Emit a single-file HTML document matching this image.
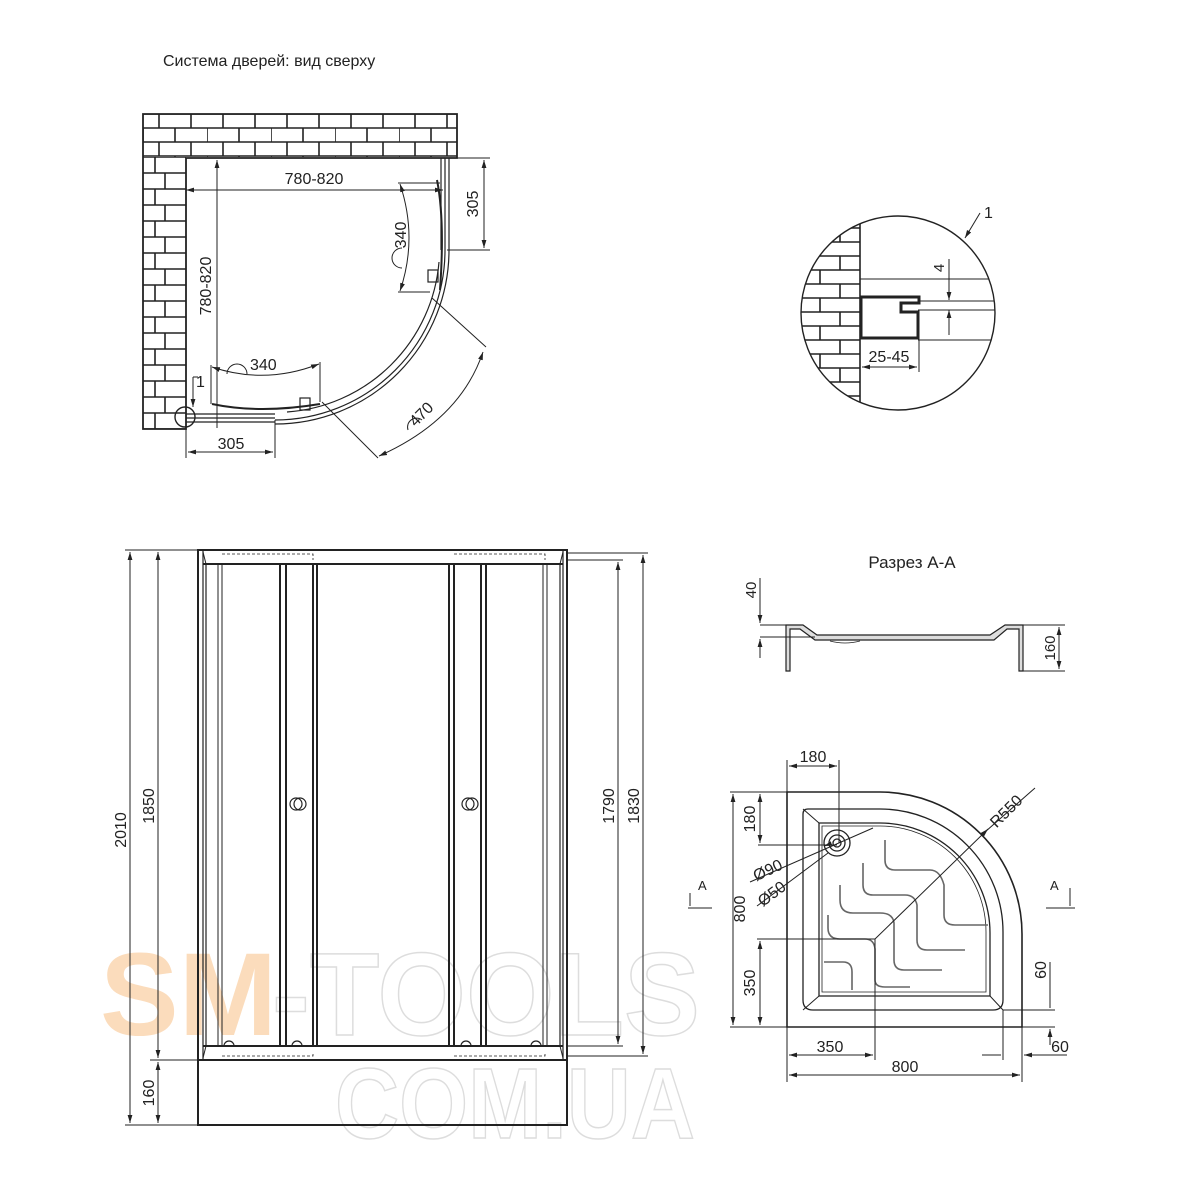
<!DOCTYPE html>
<html><head><meta charset="utf-8"><style>
html,body{margin:0;padding:0;background:#fff}
svg{display:block}
text{font-family:"Liberation Sans",sans-serif;fill:#222}
</style></head><body>
<svg width="1200" height="1200" viewBox="0 0 1200 1200" xmlns="http://www.w3.org/2000/svg">
<defs>
<pattern id="brickH" x="143" y="114" width="64" height="28" patternUnits="userSpaceOnUse">
<rect width="64" height="28" fill="#fff"/>
<path d="M0 0H64M0 14H64M0 28H64M16 0V14M48 0V14M0 14V28M32 14V28" stroke="#222" stroke-width="1.6" fill="none"/>
</pattern>
<pattern id="brickV" x="143" y="157" width="44" height="32" patternUnits="userSpaceOnUse">
<rect width="44" height="32" fill="#fff"/>
<path d="M0 0H44M0 16H44M0 32H44M12 0V16M22 16V32" stroke="#222" stroke-width="1.6" fill="none"/>
</pattern>
<pattern id="brickD" x="800" y="200" width="60" height="28" patternUnits="userSpaceOnUse">
<rect width="60" height="28" fill="#fff"/>
<path d="M0 0H60M0 14H60M0 28H60M40 0V14M20 14V28" stroke="#222" stroke-width="1.6" fill="none"/>
</pattern>
<clipPath id="dc"><circle cx="898" cy="313" r="97"/></clipPath>
<marker id="ar" viewBox="0 0 10 10" refX="10" refY="5" markerWidth="8" markerHeight="8" orient="auto-start-reverse"><path d="M0 2L10 5L0 8z" fill="#222"/></marker>
</defs>

<text x="163" y="66" font-size="16">Система дверей: вид сверху</text>

<g font-weight="bold" font-size="118">
<text x="100" y="1035" style="fill:#fbdcbc">SM</text>
<text x="272" y="1035" style="fill:none" stroke="#ddd" stroke-width="1.5" textLength="428" lengthAdjust="spacingAndGlyphs">-TOOLS</text>
<text x="335" y="1138" style="fill:none" stroke="#ddd" stroke-width="1.5" font-size="100" textLength="360" lengthAdjust="spacingAndGlyphs">COM.UA</text>
</g>

<g stroke="#222" fill="none" stroke-width="1.2">
<rect x="143" y="114" width="314" height="43" fill="url(#brickH)" stroke="none"/>
<rect x="143" y="157" width="43" height="272" fill="url(#brickV)" stroke="none"/>
<path d="M143 114H457V158H186V429H143Z" stroke-width="1.8"/>
<path d="M441 158V250M445 158V250M449 158V250"/>
<path d="M186 414H275M186 418H275M186 422H275"/>
<path d="M449 250A174 174 0 0 1 275 424"/>
<path d="M445 250A170 170 0 0 1 275 420"/>
<path d="M439 262A164 164 0 0 1 287 412"/>
<path d="M437 180 Q445 220 440 290" stroke-width="2"/>
<path d="M212 404 Q260 414 320 404" stroke-width="2"/>
<rect x="428" y="270" width="10" height="12" />
<rect x="300" y="398" width="10" height="12"/>
<path d="M186 190H443" marker-start="url(#ar)" marker-end="url(#ar)" stroke-width="1"/>
<path d="M217 160V428" marker-start="url(#ar)" stroke-width="1"/>
<path d="M447 158H490M447 250H490" stroke-width="1"/>
<path d="M484 160V248" marker-start="url(#ar)" marker-end="url(#ar)" stroke-width="1"/>
<path d="M186 424V458M275 420V458" stroke-width="1"/>
<path d="M188 452H273" marker-start="url(#ar)" marker-end="url(#ar)" stroke-width="1"/>
<path d="M398 183H440M398 292H430" stroke-width="1"/>
<path d="M400 184 Q418 238 400 291" marker-start="url(#ar)" marker-end="url(#ar)" stroke-width="1"/>
<path d="M402 248 A10 10 0 0 0 402 268" stroke-width="1"/>
<path d="M211 365V404M320 362V402" stroke-width="1"/>
<path d="M212 367 Q265 385 319 364" marker-start="url(#ar)" marker-end="url(#ar)" stroke-width="1"/>
<path d="M227 374 A10 10 0 0 1 247 374" stroke-width="1"/>
<path d="M432 298L486 347M322 402L378 458" stroke-width="1"/>
<path d="M483 352 Q460 420 379 456" marker-start="url(#ar)" marker-end="url(#ar)" stroke-width="1"/>
<path d="M408 430 A9 9 0 0 1 422 420" stroke-width="1"/>
<circle cx="185" cy="417" r="10" stroke-width="1.4"/>
<path d="M193 377V407" marker-end="url(#ar)" stroke-width="1"/>
<path d="M193 377H198" stroke-width="1"/>
</g>
<g font-size="16">
<text x="314" y="184" text-anchor="middle">780-820</text>
<text transform="translate(211,286) rotate(-90)" text-anchor="middle">780-820</text>
<text transform="translate(478,204) rotate(-90)" text-anchor="middle">305</text>
<text x="231" y="449" text-anchor="middle">305</text>
<text transform="translate(406,235) rotate(-90)" text-anchor="middle">340</text>
<text x="250" y="370">340</text>
<text transform="translate(425,418) rotate(-45)" text-anchor="middle">470</text>
<text x="196" y="387">1</text>
</g>

<g stroke="#222" fill="none">
<rect x="780" y="200" width="80" height="230" fill="url(#brickD)" clip-path="url(#dc)" stroke="none"/>
<circle cx="898" cy="313" r="97" stroke-width="1.4"/>
<g clip-path="url(#dc)" stroke-width="1">
<path d="M860 200V420" stroke-width="1.6"/>
<path d="M860 279H1000M918 301H1000M918 310H1000M918 340H1000"/>
</g>
<path d="M861 297H919V303H901V312H918V338H861Z" stroke-width="3"/>
<path d="M919 340V372" stroke-width="1"/>
<path d="M862 367H917" marker-start="url(#ar)" marker-end="url(#ar)" stroke-width="1"/>
<path d="M949 259V300" marker-end="url(#ar)" stroke-width="1"/>
<path d="M949 335V310" marker-end="url(#ar)" stroke-width="1"/>
<path d="M980 213L965 238" marker-end="url(#ar)" stroke-width="1"/>
</g>
<text x="984" y="218" font-size="16">1</text>
<text transform="translate(944,268) rotate(-90)" font-size="15" text-anchor="middle">4</text>
<text x="889" y="362" font-size="16" text-anchor="middle">25-45</text>

<g stroke="#222" fill="none" stroke-width="1.2">
<rect x="198" y="550" width="369" height="575" stroke-width="2"/>
<path d="M198 1060H567" stroke-width="2"/>
<path d="M203 564H563M203 1046H563" stroke-width="2"/>
<path d="M203 551V1059M206 564V1046M563 551V1059M560 564V1046"/>
<path d="M218 564V1046M222 564V1046M543 564V1046M547 564V1046" stroke-width="1"/>
<path d="M280 564V1046M286 564V1046M313 564V1046M317 564V1046M449 564V1046M454 564V1046M481 564V1046M486 564V1046" stroke-width="2"/>
<path d="M222 554H313V560M454 554H545V560M222 1056H313V1052M454 1056H545V1052" stroke-dasharray="3 2" stroke-width="0.8"/>
<path d="M203 552L206 564M563 552L560 564M203 1058L206 1046M563 1058L560 1046" stroke-width="1"/>
<circle cx="296" cy="804" r="6"/><circle cx="300" cy="804" r="6"/>
<circle cx="468" cy="804" r="6"/><circle cx="472" cy="804" r="6"/>
<path d="M224 1046a5 5 0 0 1 10 0M292 1046a5 5 0 0 1 10 0M461 1046a5 5 0 0 1 10 0M531 1046a5 5 0 0 1 10 0"/>
<path d="M125 550H198M150 1060H198M125 1125H198" stroke-width="1"/>
<path d="M130 552V1123" marker-start="url(#ar)" marker-end="url(#ar)" stroke-width="1"/>
<path d="M158 552V1058" marker-start="url(#ar)" marker-end="url(#ar)" stroke-width="1"/>
<path d="M158 1062V1123" marker-start="url(#ar)" marker-end="url(#ar)" stroke-width="1"/>
<path d="M567 553H648M567 560H623M567 1046H623M567 1056H648" stroke-width="1"/>
<path d="M618 562V1044" marker-start="url(#ar)" marker-end="url(#ar)" stroke-width="1"/>
<path d="M643 555V1054" marker-start="url(#ar)" marker-end="url(#ar)" stroke-width="1"/>
</g>
<g font-size="16">
<text transform="translate(126,830) rotate(-90)" text-anchor="middle">2010</text>
<text transform="translate(154,806) rotate(-90)" text-anchor="middle">1850</text>
<text transform="translate(154,1093) rotate(-90)" text-anchor="middle">160</text>
<text transform="translate(614,806) rotate(-90)" text-anchor="middle">1790</text>
<text transform="translate(639,806) rotate(-90)" text-anchor="middle">1830</text>
</g>

<text x="912" y="568" font-size="17" text-anchor="middle">Разрез A-A</text>
<g stroke="#222" fill="none" stroke-width="1.2">
<path d="M786 671V625H803L817 635H990L1005 625H1023V671H1019V629H1007L994 640H815L800 629H790V671Z" fill="#ddd"/>
<path d="M760 625H786M760 637H815M1023 625H1065M1023 671H1065" stroke-width="1"/>
<path d="M760 578V623" marker-end="url(#ar)" stroke-width="1"/>
<path d="M760 658V639" marker-end="url(#ar)" stroke-width="1"/>
<path d="M1059 627V669" marker-start="url(#ar)" marker-end="url(#ar)" stroke-width="1"/>
<path d="M830 641Q845 645 860 641" stroke-width="0.8"/>
</g>
<text transform="translate(756,590) rotate(-90)" font-size="15" text-anchor="middle">40</text>
<text transform="translate(1055,648) rotate(-90)" font-size="15" text-anchor="middle">160</text>

<g stroke="#222" fill="none" stroke-width="1.3">
<path d="M787 792H880A142 142 0 0 1 1022 934V1027H787Z" stroke-width="1.6"/>
<path d="M808 809H880A123 123 0 0 1 1003 932V1000Q1003 1010 993 1010H813Q803 1010 803 1000V814Q803 809 808 809Z"/>
<path d="M819 823H880A110 110 0 0 1 990 933V996H819Z"/>
<path d="M822 826H880A106 106 0 0 1 986 932V992H822Z" stroke-width="0.8"/>
<path d="M803 809L819 823M803 1010L819 996M1003 1010L990 996" stroke-width="1"/>
<circle cx="837" cy="843" r="13"/><circle cx="837" cy="843" r="8"/><circle cx="837" cy="843" r="4"/>
<g stroke="#666" stroke-width="1.6">
<path d="M885 840V860Q885 870 895 870H930Q940 870 944 885V915Q944 925 955 925H988"/>
<path d="M863 863V885Q863 895 873 895H905Q915 895 917 905V940Q917 950 927 950H965"/>
<path d="M840 885V900Q840 913 853 913H880Q893 913 894 923V960Q894 970 904 970H942"/>
<path d="M828 915V928Q828 939 840 939H865Q874 939 875 949V980Q875 987 885 987H910"/>
<path d="M824 962H843Q852 962 852 972V990"/>
</g>
<path d="M787 760V792M839 760V843" stroke-width="1"/>
<path d="M789 766H837" marker-start="url(#ar)" marker-end="url(#ar)" stroke-width="1"/>
<path d="M758 792H787M758 845H837" stroke-width="1"/>
<path d="M760 794V843" marker-start="url(#ar)" marker-end="url(#ar)" stroke-width="1"/>
<path d="M730 792H787M730 1027H787" stroke-width="1"/>
<path d="M733 794V1025" marker-start="url(#ar)" marker-end="url(#ar)" stroke-width="1"/>
<path d="M757 939H875V1060" stroke-width="1"/>
<path d="M760 941V1025" marker-start="url(#ar)" marker-end="url(#ar)" stroke-width="1"/>
<path d="M787 1027V1082M1022 1027V1082M1003 1010V1060" stroke-width="1"/>
<path d="M789 1055H873" marker-start="url(#ar)" marker-end="url(#ar)" stroke-width="1"/>
<path d="M789 1075H1020" marker-start="url(#ar)" marker-end="url(#ar)" stroke-width="1"/>
<path d="M982 1055H1001M1067 1055H1024" marker-end="url(#ar)" stroke-width="1"/>
<path d="M1003 1010H1055M1022 1027H1055" stroke-width="1"/>
<path d="M1050 962V1008M1050 1045V1029" marker-end="url(#ar)" stroke-width="1"/>
<path d="M875 939L985 832L1035 788" stroke-width="1"/>
<path d="M985 832L988 829" marker-end="url(#ar)" stroke-width="1"/>
<path d="M750 882L873 828M757 906L828 853" stroke-width="1"/>
<path d="M830 844L824 846" marker-end="url(#ar)" stroke-width="1"/>
<path d="M688 908H712M690 893V906" stroke-width="1"/>
<path d="M1046 908H1075M1070 888V906" stroke-width="1"/>
</g>
<g font-size="16">
<text x="813" y="762" text-anchor="middle">180</text>
<text transform="translate(755,819) rotate(-90)" text-anchor="middle">180</text>
<text transform="translate(745,909) rotate(-90)" text-anchor="middle">800</text>
<text transform="translate(755,983) rotate(-90)" text-anchor="middle">350</text>
<text x="830" y="1052" text-anchor="middle">350</text>
<text x="905" y="1072" text-anchor="middle">800</text>
<text transform="translate(1046,970) rotate(-90)" text-anchor="middle">60</text>
<text x="1060" y="1052" text-anchor="middle">60</text>
<text transform="translate(1010,815) rotate(-45)" text-anchor="middle">R550</text>
<text transform="translate(770,875) rotate(-25)" text-anchor="middle">Ø90</text>
<text transform="translate(775,898) rotate(-37)" text-anchor="middle">Ø50</text>
<text x="698" y="890" font-size="13">A</text>
<text x="1050" y="890" font-size="13">A</text>
</g>
</svg>
</body></html>
